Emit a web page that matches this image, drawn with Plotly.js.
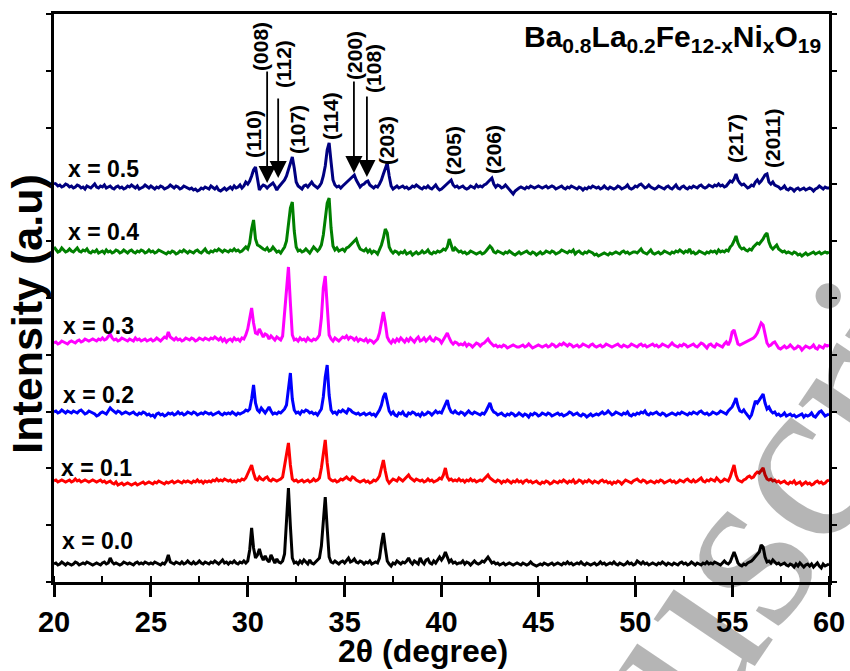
<!DOCTYPE html>
<html><head><meta charset="utf-8">
<script src="https://cdn.plot.ly/plotly-3.0.1.min.js"></script>
<style>html,body{margin:0;padding:0;background:#fff}#chart{width:850px;height:671px}</style>
</head><body><div id="chart"></div>
<script>
// 2-theta grid (degree)
const twoTheta = [
20,20.1,20.2,20.3,20.4,20.5,20.6,20.7,20.8,20.9,
21,21.1,21.2,21.3,21.4,21.5,21.6,21.7,21.8,21.9,
22,22.1,22.2,22.3,22.4,22.5,22.6,22.7,22.8,22.9,
23,23.1,23.2,23.3,23.4,23.5,23.6,23.7,23.8,23.9,
24,24.1,24.2,24.3,24.4,24.5,24.6,24.7,24.8,24.9,
25,25.1,25.2,25.3,25.4,25.5,25.6,25.7,25.8,25.9,
26,26.1,26.2,26.3,26.4,26.5,26.6,26.7,26.8,26.9,
27,27.1,27.2,27.3,27.4,27.5,27.6,27.7,27.8,27.9,
28,28.1,28.2,28.3,28.4,28.5,28.6,28.7,28.8,28.9,
29,29.1,29.2,29.3,29.4,29.5,29.6,29.7,29.8,29.9,
30,30.1,30.2,30.3,30.4,30.5,30.6,30.7,30.8,30.9,
31,31.1,31.2,31.3,31.4,31.5,31.6,31.7,31.8,31.9,
32,32.1,32.2,32.3,32.4,32.5,32.6,32.7,32.8,32.9,
33,33.1,33.2,33.3,33.4,33.5,33.6,33.7,33.8,33.9,
34,34.1,34.2,34.3,34.4,34.5,34.6,34.7,34.8,34.9,
35,35.1,35.2,35.3,35.4,35.5,35.6,35.7,35.8,35.9,
36,36.1,36.2,36.3,36.4,36.5,36.6,36.7,36.8,36.9,
37,37.1,37.2,37.3,37.4,37.5,37.6,37.7,37.8,37.9,
38,38.1,38.2,38.3,38.4,38.5,38.6,38.7,38.8,38.9,
39,39.1,39.2,39.3,39.4,39.5,39.6,39.7,39.8,39.9,
40,40.1,40.2,40.3,40.4,40.5,40.6,40.7,40.8,40.9,
41,41.1,41.2,41.3,41.4,41.5,41.6,41.7,41.8,41.9,
42,42.1,42.2,42.3,42.4,42.5,42.6,42.7,42.8,42.9,
43,43.1,43.2,43.3,43.4,43.5,43.6,43.7,43.8,43.9,
44,44.1,44.2,44.3,44.4,44.5,44.6,44.7,44.8,44.9,
45,45.1,45.2,45.3,45.4,45.5,45.6,45.7,45.8,45.9,
46,46.1,46.2,46.3,46.4,46.5,46.6,46.7,46.8,46.9,
47,47.1,47.2,47.3,47.4,47.5,47.6,47.7,47.8,47.9,
48,48.1,48.2,48.3,48.4,48.5,48.6,48.7,48.8,48.9,
49,49.1,49.2,49.3,49.4,49.5,49.6,49.7,49.8,49.9,
50,50.1,50.2,50.3,50.4,50.5,50.6,50.7,50.8,50.9,
51,51.1,51.2,51.3,51.4,51.5,51.6,51.7,51.8,51.9,
52,52.1,52.2,52.3,52.4,52.5,52.6,52.7,52.8,52.9,
53,53.1,53.2,53.3,53.4,53.5,53.6,53.7,53.8,53.9,
54,54.1,54.2,54.3,54.4,54.5,54.6,54.7,54.8,54.9,
55,55.1,55.2,55.3,55.4,55.5,55.6,55.7,55.8,55.9,
56,56.1,56.2,56.3,56.4,56.5,56.6,56.7,56.8,56.9,
57,57.1,57.2,57.3,57.4,57.5,57.6,57.7,57.8,57.9,
58,58.1,58.2,58.3,58.4,58.5,58.6,58.7,58.8,58.9,
59,59.1,59.2,59.3,59.4,59.5,59.6,59.7,59.8,59.9,
60];

const sampleLabels = ['x = 0.0','x = 0.1','x = 0.2','x = 0.3','x = 0.4','x = 0.5'];
const sampleColors = ['#000000','#ff0000','#0000ff','#ff00ff','#008000','#000080'];
// vertical stacking offset of each pattern (a.u.)
const stackOffset = [16, 99, 167, 239, 329, 394];

// relative intensities (a.u.)
const intX00 = [
2,3,1,2,4,2,1,3,2,1,
2,4,3,1,2,3,2,4,3,2,
1,2,3,2,1,3,4,2,3,8,
4,2,3,2,1,2,4,3,2,3,
2,1,3,4,2,3,2,4,3,2,
3,2,4,3,2,1,3,2,5,11,
4,3,2,4,3,2,4,2,3,5,
3,2,4,2,3,5,3,2,4,3,
2,4,3,5,3,2,4,6,3,4,
2,4,3,5,3,2,4,3,5,3,
5,16,38,18,8,11,17,10,6,10,
6,4,11,6,3,7,4,3,5,12,
45,78,40,8,3,4,2,5,3,6,
4,2,6,3,2,4,5,8,20,50,
69,38,9,4,3,5,3,2,4,5,
3,6,8,4,5,7,4,3,5,4,
2,4,3,5,2,3,4,3,8,22,
33,18,5,2,0,3,2,5,3,2,
4,3,5,8,4,2,5,3,2,8,
4,2,6,7,3,2,5,3,6,9,
6,9,14,8,4,6,3,4,2,3,
3,5,2,4,3,1,3,5,3,2,
3,5,4,6,9,6,3,4,2,3,
1,2,3,1,2,3,2,1,2,3,
2,1,3,2,1,2,4,2,1,0,
1,2,1,3,2,1,2,3,1,2,
3,2,1,3,2,4,2,3,1,2,
3,2,4,2,1,3,2,1,2,3,
1,2,4,2,3,1,2,3,2,4,
2,1,3,2,1,2,4,2,3,1,
2,5,3,2,4,2,3,1,2,3,
2,1,3,2,4,2,1,3,2,1,
3,2,1,3,4,2,3,1,2,4,
2,1,3,2,1,3,2,4,2,3,
2,4,3,2,1,3,5,3,2,4,
10,14,9,3,1,0,2,1,3,4,
5,7,9,11,14,21,19,9,4,5,
3,6,4,2,3,1,2,3,1,0,
2,1,-1,2,0,3,1,-1,1,2,
0,2,-1,1,3,0,-2,2,0,1,
2];

const intX01 = [
2,3,1,2,3,2,1,2,3,1,
2,4,2,3,1,2,3,2,1,2,
3,2,1,2,3,1,2,0,1,2,
0,-1,1,-2,-1,0,-2,-1,0,-1,
-2,-1,0,-2,-1,0,1,-1,0,1,
0,-1,1,0,2,1,0,-1,1,0,
1,2,0,1,2,1,0,2,1,2,
1,0,2,1,3,1,2,0,2,1,
2,1,3,2,4,2,3,2,4,3,
2,3,1,2,1,3,2,4,3,5,
9,14,18,10,4,3,6,4,3,5,
6,3,2,4,3,2,3,4,6,18,
30,40,18,4,2,3,1,2,3,1,
2,3,1,2,4,2,3,5,15,32,
43,20,5,3,2,3,1,2,4,3,
5,6,4,3,6,5,3,2,1,2,
3,1,2,0,1,3,2,4,7,15,
23,12,3,0,2,4,3,2,5,3,
2,4,6,8,5,3,2,4,3,2,
3,1,2,4,2,3,1,2,3,5,
4,8,15,6,3,4,2,3,2,4,
2,3,1,3,2,4,2,3,1,2,
3,2,4,5,8,5,3,2,1,3,
2,0,2,1,3,1,0,2,1,3,
1,2,0,2,3,1,2,0,1,2,
0,-1,1,0,2,1,-1,0,2,1,
0,2,1,3,1,0,2,1,3,0,
1,3,2,0,2,1,3,1,0,2,
1,0,2,3,1,2,0,1,-1,1,
0,2,1,-1,1,3,2,1,0,2,
3,4,2,1,3,2,0,1,2,1,
0,2,1,3,2,0,1,2,3,1,
2,0,1,3,2,1,3,4,2,1,
3,1,2,4,5,2,1,3,2,4,
3,2,5,3,1,2,4,3,2,6,
12,18,8,3,2,1,3,4,6,7,
5,6,9,11,10,13,15,8,4,3,
4,2,3,1,2,0,1,2,0,-1,
1,0,2,-1,0,1,-2,0,1,-1,
0,-2,-1,1,2,0,1,-1,0,2,
3];

const intX02 = [
3,4,2,3,5,3,2,4,3,2,
4,3,2,4,5,3,1,2,4,3,
2,1,-1,0,2,3,2,1,4,7,
5,3,2,4,3,1,2,3,2,1,
2,3,1,0,2,1,3,2,0,1,
-1,0,-2,1,2,0,1,-1,0,2,
1,2,0,1,3,1,2,0,1,3,
2,1,3,2,0,1,2,1,3,2,
1,2,0,1,2,3,1,0,2,1,
2,1,3,1,0,2,1,2,3,5,
4,6,16,30,12,5,3,7,4,2,
5,8,4,1,2,1,3,2,4,6,
10,28,42,16,5,2,3,1,4,3,
5,4,2,3,1,2,0,3,6,18,
38,50,20,5,2,3,1,4,3,5,
3,2,6,5,3,2,1,2,0,1,
2,0,1,2,0,1,-1,2,5,10,
18,22,12,4,1,3,0,-1,2,1,
3,0,-1,2,1,3,2,0,1,-1,
2,0,1,3,2,0,2,4,2,3,
2,6,10,15,7,3,2,4,2,1,
3,2,0,2,4,2,1,3,2,1,
0,2,1,4,8,12,6,3,2,0,
1,2,0,-1,1,0,2,1,-1,0,
2,0,-1,1,0,-2,1,0,2,1,
-1,0,2,1,0,2,1,-1,0,1,
2,0,1,-1,0,1,3,2,0,1,
2,0,-1,1,0,-2,0,1,-1,0,
1,0,2,3,1,2,4,2,0,1,
3,2,1,0,2,1,3,0,-1,1,
0,2,1,3,2,4,1,0,2,1,
2,3,1,0,2,1,-1,0,1,2,
1,0,2,1,3,2,1,0,2,1,
3,2,1,3,4,2,1,2,0,1,
3,2,1,2,4,3,2,1,4,6,
8,12,17,9,4,3,5,2,-1,-3,
0,6,14,12,15,19,21,12,6,8,
4,2,3,0,1,-1,0,2,-1,0,
1,-1,0,-2,-1,0,1,-2,0,-1,
0,2,-1,-2,1,3,4,1,-1,0,
1];

const intX03 = [
0,1,-1,0,2,1,0,-1,1,2,
1,0,2,3,1,2,4,3,2,3,
4,3,2,4,3,5,3,4,6,9,
5,3,4,2,3,5,4,3,2,4,
3,2,5,3,4,2,3,4,2,3,
4,2,3,5,3,2,4,6,5,11,
6,4,3,5,3,4,2,3,5,4,
3,5,4,2,3,5,4,3,5,4,
3,5,4,6,4,3,5,2,4,1,
3,4,2,5,3,4,2,5,4,8,
14,25,35,20,10,9,14,10,6,9,
8,4,7,5,3,6,4,3,7,30,
60,76,40,8,3,4,2,5,3,4,
2,5,3,2,4,3,5,8,25,55,
67,35,8,4,2,5,3,2,4,6,
5,7,4,6,5,3,5,2,4,3,
2,4,1,3,2,0,2,4,10,22,
31,20,6,2,0,3,1,4,2,5,
3,1,4,2,5,3,1,4,6,2,
3,5,2,4,6,3,2,5,4,3,
0,3,6,10,5,1,-1,1,0,-2,
-1,-2,0,-3,-1,-2,-4,-2,0,-1,
-3,-1,0,2,4,1,-1,-3,-2,-4,
-3,-4,-2,-3,-5,-4,-3,-2,-3,-4,
-4,-3,-2,-4,-3,-1,-3,-5,-4,-3,
-2,-3,-4,-3,-2,-4,-3,-1,-2,-4,
-3,-1,-2,0,-2,-3,-1,-2,-4,-3,
-2,-4,-3,-1,-2,-3,-4,-2,-1,-3,
-4,-3,-2,-4,-3,-1,-2,-3,-4,-3,
-2,-1,-3,-4,-2,-3,-4,-3,-1,-2,
-3,-4,-2,-1,-3,-2,-4,-3,-2,-1,
-3,-2,-4,-3,-1,-2,-3,-4,-2,0,
-2,-3,-4,-2,-3,-1,-2,-4,-3,-2,
-1,-3,-4,-2,0,-1,-3,-5,-2,-1,
-3,-4,-1,-2,-3,-4,-1,1,-2,2,
11,13,6,-1,-2,-1,0,1,2,3,
4,5,7,10,15,20,18,8,0,-3,
-2,0,1,-2,-5,-6,-4,-3,-5,-4,
-2,-4,-6,-5,-3,-4,-7,-5,-3,-4,
-5,-4,-2,-5,-6,-3,-4,-5,-2,-3,
-2];

const intX04 = [
6,3,1,2,5,3,1,2,4,2,
1,3,5,2,1,3,2,4,1,0,
2,1,3,0,1,2,0,3,1,2,
0,1,3,2,0,1,3,1,0,2,
3,1,0,2,1,3,2,0,1,3,
1,2,0,1,3,2,1,0,-1,1,
0,2,1,-1,0,2,1,3,1,0,
2,1,0,2,3,1,0,2,4,1,
0,2,1,3,2,4,2,1,3,2,
1,3,2,4,2,3,1,2,4,6,
4,10,24,33,14,8,7,5,4,3,
5,2,3,6,4,1,2,0,3,6,
12,28,45,51,22,6,2,3,1,2,
4,2,0,3,6,4,2,4,8,18,
35,50,55,25,7,3,5,2,3,4,
2,5,6,8,11,13,14,8,4,3,
2,4,1,3,0,2,1,-1,3,8,
15,24,20,6,2,0,2,1,-1,1,
0,2,-1,0,1,-2,0,1,-1,0,
2,0,1,3,0,-1,1,0,2,1,
2,4,3,6,14,8,2,5,3,1,
2,0,1,-1,0,2,1,0,-1,0,
1,-1,0,2,4,7,5,1,0,2,
1,0,-1,1,0,2,0,-1,-2,0,
1,-1,0,1,2,0,-1,1,0,-2,
0,1,-1,0,2,1,0,2,1,-1,
0,1,3,2,1,0,2,1,3,-1,
1,2,0,-1,1,0,2,1,0,-2,
-1,-3,-2,-1,0,-1,-2,0,-1,0,
1,0,-1,1,2,0,1,-1,0,1,
1,0,2,4,1,0,-1,1,3,0,
-1,0,1,-1,0,2,1,0,-1,1,
0,2,1,3,1,0,2,1,4,0,
1,-1,0,2,1,0,-1,1,0,2,
1,2,0,3,1,2,1,3,2,6,
8,12,17,10,6,4,5,3,2,4,
3,6,8,10,9,11,14,18,20,11,
6,4,6,8,4,2,1,2,0,1,
0,-1,1,0,-2,-1,-3,-1,0,-2,
-1,0,1,-1,0,1,-1,0,1,0,
1];

const intX05 = [
5,4,2,3,1,2,4,3,1,2,
0,1,3,2,0,1,-1,2,1,0,
2,4,1,0,2,1,3,0,1,2,
0,-1,1,2,0,1,-1,0,2,1,
3,1,0,2,-1,0,1,3,1,0,
2,0,-1,1,0,2,1,-1,0,1,
3,1,0,2,1,-1,0,2,1,0,
-1,0,-2,-1,-3,-2,0,-1,1,0,
-1,2,0,-1,1,-2,-3,-1,0,-2,
0,1,-1,2,0,1,3,0,2,6,
4,7,12,18,21,8,-2,1,3,2,
0,2,4,5,2,-2,1,3,5,8,
12,18,26,31,20,6,2,0,-1,2,
3,1,4,6,3,1,0,2,5,12,
22,38,45,26,8,3,1,2,0,2,
4,5,8,10,12,13,8,4,1,3,
4,6,7,3,1,0,2,1,4,8,
14,20,25,12,2,-1,1,2,0,1,
2,0,1,-1,0,2,1,3,1,0,
-1,1,0,2,0,-1,1,3,0,-2,
-1,1,3,5,6,8,3,1,2,0,
1,2,0,-1,0,2,1,0,3,1,
2,1,3,4,6,8,10,4,1,3,
2,0,1,3,1,-1,-4,-6,-3,-1,
0,1,0,-1,1,0,2,1,0,1,
2,1,0,1,2,0,1,2,1,-1,
0,1,2,0,-1,1,0,2,1,0,
-1,1,0,-2,0,-1,1,0,2,1,
0,1,-1,0,2,0,-1,1,0,-1,
0,2,1,-1,0,1,3,0,-1,0,
2,1,3,4,2,0,1,3,1,0,
-1,0,2,1,0,-1,1,2,0,-1,
1,3,0,-1,1,2,0,-1,1,0,
2,1,0,2,3,1,0,1,3,2,
1,3,2,4,2,3,1,2,4,7,
6,9,14,8,5,3,4,2,0,1,
3,2,6,8,5,7,10,13,14,6,
4,6,3,2,1,-1,0,2,-1,-2,
0,-1,-3,-1,0,-2,-1,0,-2,-1,
0,-1,-3,-1,0,2,0,-1,1,0,
0];

const patterns = [intX00, intX01, intX02, intX03, intX04, intX05];

// Miller indices of the reflections
const hklLabels = ['(110)','(008)','(112)','(107)','(114)','(200)','(108)','(203)','(205)','(206)','(217)','(2011)'];
// arrowed reflections (2-theta, degree)
const arrowTwoTheta = [31.0, 31.57, 35.48, 36.15];

const titleText = 'Ba<sub>0.8</sub>La<sub>0.2</sub>Fe<sub>12-x</sub>Ni<sub>x</sub>O<sub>19</sub>';
const xTitle = '2θ (degree)';
const yTitle = 'Intensity (a.u)';

// ---- layout helpers (positions only) ----
const hklLabelX = [30.27, 30.63, 31.82, 32.54, 34.25, 35.48, 36.46, 37.14, 40.6, 42.66, 55.15, 57.06];
const hklLabelY = [448, 536, 518, 453, 466, 527, 514, 441, 431, 432, 443, 444];
const arrowTail = [512, 485, 502, 487];
const arrowTip  = [399, 404, 409, 405];
const labelX = [20.31, 20.26, 20.36, 20.36, 20.62, 20.62];
const labelY = [41.5, 114.5, 187.5, 256.5, 350.5, 413.5];

const traces = patterns.map((p, k) => ({
  type: 'scatter', mode: 'lines',
  x: twoTheta,
  y: p.map(v => v + stackOffset[k]),
  name: sampleLabels[k],
  line: {color: sampleColors[k], width: 3},
  hoverinfo: 'skip'
}));

const bold = (size) => ({family: 'Arial, "Liberation Sans", sans-serif', size: size, color: '#000', weight: 'bold'});

const annotations = [];
hklLabels.forEach((t, i) => annotations.push({
  x: hklLabelX[i], y: hklLabelY[i], xref: 'x', yref: 'y', text: t, textangle: -90,
  showarrow: false, xanchor: 'center', yanchor: 'middle', font: bold(21)
}));
arrowTwoTheta.forEach((a, i) => annotations.push({
  x: a, y: arrowTip[i], ax: a, ay: arrowTail[i], xref: 'x', yref: 'y', axref: 'x', ayref: 'y',
  text: '', showarrow: true, arrowhead: 2, arrowsize: 1.9, arrowwidth: 1.8, arrowcolor: '#000', standoff: 0
}));
sampleLabels.forEach((t, k) => annotations.push({
  x: labelX[k], y: labelY[k], xref: 'x', yref: 'y', text: t, showarrow: false,
  xanchor: 'left', yanchor: 'middle', font: bold(23)
}));
annotations.push({
  x: 0.992, y: 0.993, xref: 'paper', yref: 'paper', text: titleText, showarrow: false,
  xanchor: 'right', yanchor: 'top', font: bold(30)
});
// axis titles
annotations.push({
  x: 0.476, y: -0.0865, xref: 'paper', yref: 'paper', text: xTitle, showarrow: false,
  xanchor: 'center', yanchor: 'top', font: bold(32)
});
annotations.push({
  x: -0.035, y: 0.472, xref: 'paper', yref: 'paper', text: yTitle, showarrow: false,
  xanchor: 'center', yanchor: 'middle', textangle: -90, font: bold(43)
});
// faint watermark of the source page
annotations.push({
  x: 0.834, y: -0.035, xref: 'paper', yref: 'paper', text: 'Manuscript', showarrow: false,
  xanchor: 'center', yanchor: 'middle', textangle: -56,
  font: {family: '"Liberation Serif", "Times New Roman", serif', size: 240, color: 'rgba(0,0,0,0.29)'}
});

const layout = {
  width: 850, height: 671,
  margin: {l: 54, r: 21, t: 14, b: 89},
  paper_bgcolor: '#fff', plot_bgcolor: '#fff',
  showlegend: false,
  xaxis: {
    range: [20, 60], tick0: 20, dtick: 5,
    showline: true, linewidth: 3, linecolor: '#000', mirror: true,
    ticks: 'outside', ticklen: 12, tickwidth: 3, tickcolor: '#000',
    minor: {ticks: 'inside', dtick: 2.5, tick0: 20, ticklen: 6, tickwidth: 2, tickcolor: '#000'},
    showgrid: false, zeroline: false,
    tickfont: bold(29)
  },
  yaxis: {
    range: [0, 568], tick0: 0, dtick: 56.8,
    showline: true, linewidth: 3, linecolor: '#000', mirror: 'ticks',
    ticks: 'outside', ticklen: 5, tickwidth: 2, tickcolor: '#000',
    showticklabels: false, showgrid: false, zeroline: false
  },
  annotations: annotations
};

Plotly.newPlot('chart', traces, layout, {staticPlot: true, displayModeBar: false});
</script>
</body></html>
